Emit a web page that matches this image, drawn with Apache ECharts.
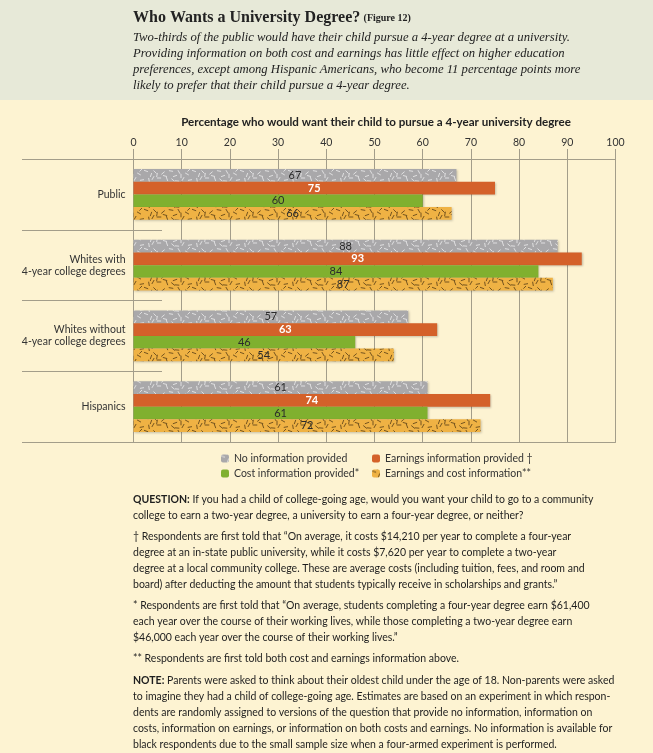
<!DOCTYPE html>
<html><head><meta charset="utf-8">
<script src="https://cdn.jsdelivr.net/npm/echarts@6/dist/echarts.min.js"></script>
<style>html,body{margin:0;padding:0;background:#fdf3d2;} #c{width:653px;height:753px;}</style>
</head><body><div id="c"></div>
<script>
// ---- data ----
const categories = ['Public', 'Whites with\n4-year college degrees', 'Whites without\n4-year college degrees', 'Hispanics'];
const seriesNames = ['No information provided', 'Earnings information provided †', 'Cost information provided*', 'Earnings and cost information**'];
const noInfo   = [67, 88, 57, 61];
const earnings = [75, 93, 63, 74];
const cost     = [60, 84, 46, 61];
const both     = [66, 87, 54, 72];
const xMin = 0, xMax = 100, xStep = 10;

// ---- texture patterns (fixed, hand-placed dashes) ----
const strokeList = [[2,2,20],[7,6,-70],[11,3,45],[15,9,0],[19,4,-40],[23,10,70],[27,2,10],[31,7,-20],[35,3,60],[39,10,-60],[43,5,30],[46,11,-10],[5,11,80],[13,6,-80],[29,11,40],[37,7,90],[21,7,15],[45,1,-45],[9,9,120],[33,12,5]];
function makePattern(base, stroke, len, lw) {
  const c = document.createElement('canvas');
  c.width = 48; c.height = 13;
  const g = c.getContext('2d');
  g.fillStyle = base; g.fillRect(0, 0, 48, 13);
  g.strokeStyle = stroke; g.lineWidth = lw; g.lineCap = 'round';
  strokeList.forEach(function (s) {
    const a = s[2] * Math.PI / 180;
    const dx = Math.cos(a) * len, dy = Math.sin(a) * len;
    g.beginPath(); g.moveTo(s[0] - dx, s[1] - dy); g.lineTo(s[0] + dx, s[1] + dy); g.stroke();
  });
  return { image: c, repeat: 'repeat' };
}
const grayPat = makePattern('#a9a8aa', 'rgba(255,255,255,0.8)', 1.7, 0.8);
const goldPat = makePattern('#efb244', 'rgba(45,30,10,0.8)', 1.9, 0.8);

const FONT = 'Lato';
const lineCol = '#a39d8a';

function barSeries(name, data, color, labelColor, bold) {
  return {
    name: name, type: 'bar', data: data, xAxisIndex: 0, yAxisIndex: 0,
    barGap: '0%', barCategoryGap: '28%',
    itemStyle: { color: color, shadowBlur: 2, shadowColor: 'rgba(0,0,0,0.22)', shadowOffsetX: 1, shadowOffsetY: 1 },
    label: { show: true, position: 'inside', color: labelColor, fontSize: 11, fontFamily: FONT, fontWeight: bold ? 'bold' : 'normal' }
  };
}

const chart = echarts.init(document.getElementById('c'));
chart.setOption({
  backgroundColor: '#fdf3d2',
  animation: false,
  grid: [
    { left: 133.5, right: 37.5, top: 159, bottom: 311 },
    { left: 22, width: 140, top: 159, bottom: 311 }
  ],
  xAxis: [
    { type: 'value', gridIndex: 0, position: 'top', min: xMin, max: xMax, interval: xStep,
      axisLine: { show: true, lineStyle: { color: lineCol, width: 1 } },
      axisTick: { show: true, length: 10, lineStyle: { color: lineCol } },
      axisLabel: { color: '#333', fontSize: 10.5, fontFamily: FONT, margin: 11 },
      splitLine: { show: true, lineStyle: { color: lineCol, width: 1 } } },
    { type: 'value', gridIndex: 0, position: 'bottom', min: xMin, max: xMax, interval: xStep,
      axisLine: { show: true, lineStyle: { color: lineCol, width: 1 } },
      axisTick: { show: false }, axisLabel: { show: false }, splitLine: { show: false } },
    { type: 'value', gridIndex: 1, show: false }
  ],
  yAxis: [
    { type: 'category', gridIndex: 0, inverse: true, data: categories,
      axisLine: { show: false }, axisTick: { show: false },
      axisLabel: { color: '#333', fontSize: 10.5, fontFamily: FONT, margin: 8, lineHeight: 12, align: 'right' } },
    { type: 'category', gridIndex: 1, inverse: true, data: categories,
      axisLine: { show: false }, axisTick: { show: false }, axisLabel: { show: false },
      splitLine: { show: true, lineStyle: { color: lineCol, width: 1 } } }
  ],
  legend: [
    { orient: 'vertical', left: 221, top: 453, itemWidth: 8, itemHeight: 8, itemGap: 4, padding: 0,
      data: [seriesNames[0], seriesNames[2]], textStyle: { color: '#333', fontSize: 10.5, fontFamily: FONT } },
    { orient: 'vertical', left: 372, top: 453, itemWidth: 8, itemHeight: 8, itemGap: 4, padding: 0,
      data: [seriesNames[1], seriesNames[3]], textStyle: { color: '#333', fontSize: 10.5, fontFamily: FONT } }
  ],
  series: [
    barSeries(seriesNames[0], noInfo, grayPat, '#2b2b2b', false),
    barSeries(seriesNames[1], earnings, '#d4612a', '#ffffff', true),
    barSeries(seriesNames[2], cost, '#80b02f', '#2b2b2b', false),
    barSeries(seriesNames[3], both, goldPat, '#2b2b2b', false)
  ],
  graphic: [
    { type: 'rect', z: -10, shape: { x: 0, y: 0, width: 653, height: 100 }, style: { fill: '#e7e9d8' } },
    { type: 'text', x: 133, y: 18, style: {
        text: '{a|Who Wants a University Degree?} {b|(Figure 12)}', verticalAlign: 'middle',
        rich: { a: { font: 'bold 16px "Liberation Serif"', fill: '#222' }, b: { font: 'bold 10px "Liberation Serif"', fill: '#222' } } } },
    { type: 'text', x: 133, y: 30, style: {
        text: 'Two-thirds of the public would have their child pursue a 4-year degree at a university.\nProviding information on both cost and earnings has little effect on higher education\npreferences, except among Hispanic Americans, who become 11 percentage points more\nlikely to prefer that their child pursue a 4-year degree.',
        font: 'italic 12.7px "Liberation Serif"', fill: '#222', lineHeight: 16, verticalAlign: 'top' } },
    { type: 'text', x: 376, y: 122, style: {
        text: 'Percentage who would want their child to pursue a 4-year university degree',
        font: 'bold 11.6px ' + FONT, fill: '#222', align: 'center', verticalAlign: 'middle' } },
    { type: 'text', x: 133, y: 492, style: {
        text: '{b|QUESTION:} If you had a child of college-going age, would you want your child to go to a community\ncollege to earn a two-year degree, a university to earn a four-year degree, or neither?',
        font: '10.5px ' + FONT, fill: '#1e1e1e', lineHeight: 16, verticalAlign: 'top',
        rich: { b: { font: 'bold 10.5px ' + FONT, fill: '#1e1e1e', lineHeight: 16 } } } },
    { type: 'text', x: 133, y: 529, style: {
        text: '† Respondents are first told that “On average, it costs $14,210 per year to complete a four-year\ndegree at an in-state public university, while it costs $7,620 per year to complete a two-year\ndegree at a local community college. These are average costs (including tuition, fees, and room and\nboard) after deducting the amount that students typically receive in scholarships and grants.”',
        font: '10.5px ' + FONT, fill: '#1e1e1e', lineHeight: 16, verticalAlign: 'top' } },
    { type: 'text', x: 133, y: 598, style: {
        text: '* Respondents are first told that “On average, students completing a four-year degree earn $61,400\neach year over the course of their working lives, while those completing a two-year degree earn\n$46,000 each year over the course of their working lives.”',
        font: '10.5px ' + FONT, fill: '#1e1e1e', lineHeight: 16, verticalAlign: 'top' } },
    { type: 'text', x: 133, y: 651, style: {
        text: '** Respondents are first told both cost and earnings information above.',
        font: '10.5px ' + FONT, fill: '#1e1e1e', lineHeight: 16, verticalAlign: 'top' } },
    { type: 'text', x: 133, y: 673, style: {
        text: '{b|NOTE:} Parents were asked to think about their oldest child under the age of 18. Non-parents were asked\nto imagine they had a child of college-going age. Estimates are based on an experiment in which respon-\ndents are randomly assigned to versions of the question that provide no information, information on\ncosts, information on earnings, or information on both costs and earnings. No information is available for\nblack respondents due to the small sample size when a four-armed experiment is performed.',
        font: '10.5px ' + FONT, fill: '#1e1e1e', lineHeight: 16, verticalAlign: 'top',
        rich: { b: { font: 'bold 10.5px ' + FONT, fill: '#1e1e1e', lineHeight: 16 } } } }
  ]
});
</script></body></html>
